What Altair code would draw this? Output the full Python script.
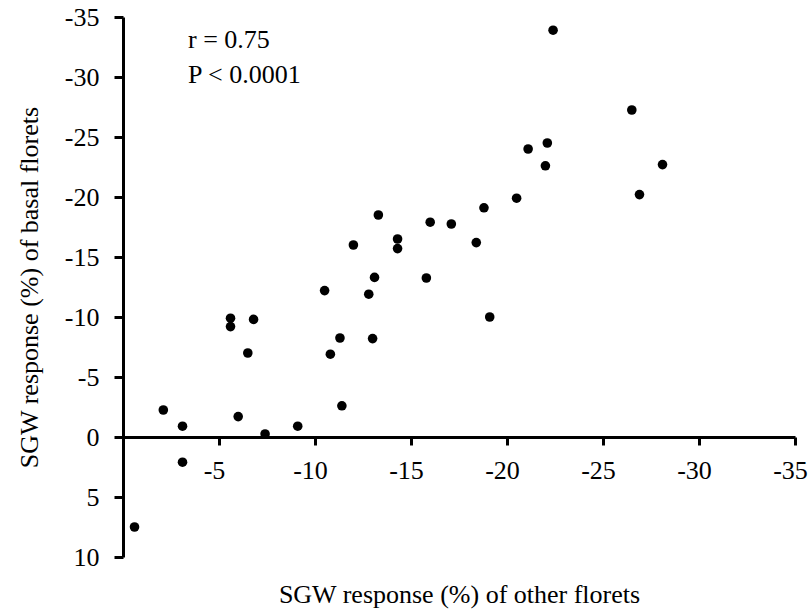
import altair as alt
import pandas as pd

# SGW response (%) of other florets (x) vs basal florets (y)
x_other = [-0.6, -2.1, -3.1, -3.1, -6.0, -7.4, -9.1, -11.4, -5.6, -5.6, -6.8, -6.5,
           -10.5, -11.3, -10.8, -12.8, -13.1, -13.0, -15.8, -14.3, -14.3, -12.0,
           -13.3, -16.0, -17.1, -18.4, -18.8, -20.5, -21.1, -22.1, -22.0, -22.4,
           -26.5, -28.1, -26.9, -19.1]
y_basal = [7.5, -2.25, -0.9, 2.1, -1.7, -0.25, -0.9, -2.6, -9.9, -9.2, -9.8, -7.0,
           -12.2, -8.25, -6.9, -11.9, -13.3, -8.2, -13.25, -16.5, -15.7, -16.0,
           -18.5, -17.9, -17.75, -16.2, -19.1, -19.9, -24.0, -24.5, -22.6, -33.9,
           -27.25, -22.7, -20.2, -10.0]

x_ticks = [-5, -10, -15, -20, -25, -30, -35]
y_ticks = [-35, -30, -25, -20, -15, -10, -5, 0, 5, 10]
stats_lines = ["r = 0.75", "P < 0.0001"]

df = pd.DataFrame({"x": x_other, "y": y_basal})

FONT = "Liberation Serif"
FS = 26

points = alt.Chart(df).mark_point(
    filled=True, shape="circle", size=92, color="black", opacity=1
).encode(
    x=alt.X(
        "x:Q",
        scale=alt.Scale(domain=[-35, 0], reverse=True, nice=False, zero=False),
        axis=alt.Axis(
            values=x_ticks, grid=False,
            labelExpr="toString(datum.value)",
            offset=-120,
            domainColor="black", domainWidth=3,
            tickColor="black", tickWidth=3, tickSize=8,
            labelFont=FONT, labelFontSize=FS, labelColor="black",
            labelPadding=12, labelOffset=-5, labelBaseline="top",
            labelOverlap=False, labelBound=False, labelFlush=False,
            title="SGW response (%) of other florets",
            titleFont=FONT, titleFontSize=FS, titleFontWeight="normal",
            titleColor="black", titleBaseline="alphabetic",
            titleY=165, titleX=336, titleAlign="center",
        ),
    ),
    y=alt.Y(
        "y:Q",
        scale=alt.Scale(domain=[-35, 10], reverse=True, nice=False, zero=False),
        axis=alt.Axis(
            values=y_ticks, grid=False,
            labelExpr="toString(datum.value)",
            domainColor="black", domainWidth=3,
            tickColor="black", tickWidth=3, tickSize=9,
            labelFont=FONT, labelFontSize=FS, labelColor="black",
            labelPadding=15, labelOverlap=False, labelBound=False, labelFlush=False,
            title="SGW response (%) of basal florets",
            titleFont=FONT, titleFontSize=FS, titleFontWeight="normal",
            titleColor="black", titleBaseline="alphabetic",
            titleAngle=270, titleX=-86, titleY=270, titleAlign="center",
        ),
    ),
)

ann1 = alt.Chart(pd.DataFrame({"t": [stats_lines[0]]})).mark_text(
    font=FONT, fontSize=FS, color="black", align="left", baseline="alphabetic"
).encode(text="t:N", x=alt.value(65), y=alt.value(31))

ann2 = alt.Chart(pd.DataFrame({"t": [stats_lines[1]]})).mark_text(
    font=FONT, fontSize=FS, color="black", align="left", baseline="alphabetic"
).encode(text="t:N", x=alt.value(65), y=alt.value(66))

chart = alt.layer(points, ann1, ann2).properties(
    width=672,
    height=540,
    autosize=alt.AutoSizeParams(type="none"),
    padding={"left": 123, "top": 17, "right": 13, "bottom": 52},
    background="white",
).configure_view(stroke=None)

chart.save("out.html", embed_options={"renderer": "svg", "actions": False})
